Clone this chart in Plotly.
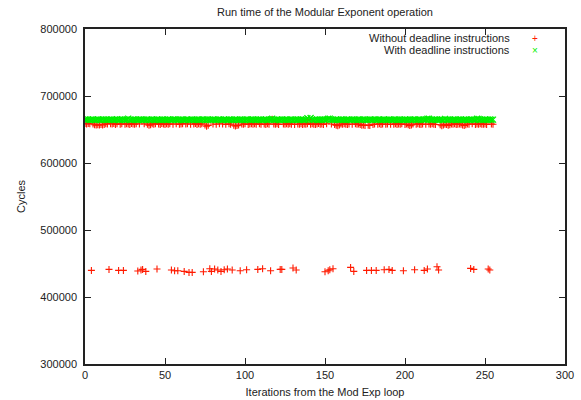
import plotly.graph_objects as go

# Iteration index (0..255) for both series
iterations = list(range(256))

# Cycles without deadline instructions (red "+")
cycles_without = [
    658800, 658300, 659000, 658500, 439700, 658200, 657000, 656600, 657200, 656800, 657400, 656900, 657500, 658600, 658100, 441200,
    658700, 658300, 658900, 657600, 658400, 439700, 658000, 658600, 439700, 657800, 658500, 658200, 657400, 658800, 658300, 657900,
    658600, 438700, 658100, 440200, 441200, 658400, 438200, 657800, 656300, 657200, 658500, 658000, 658700, 441700, 658200, 657600,
    658800, 658300, 657500, 658600, 658000, 658400, 440200, 657900, 439200, 658500, 439200, 657700, 658200, 658700, 438200, 658100,
    658500, 436700, 657800, 436700, 658300, 658800, 657600, 658400, 658000, 658600, 437700, 656800, 654900, 656200, 442200, 438200,
    658300, 441700, 657900, 440200, 658500, 438200, 658100, 440700, 657700, 441700, 658400, 657800, 440200, 656400, 655300, 655800,
    656600, 439200, 658200, 657900, 658500, 440700, 657600, 658300, 658700, 657900, 658400, 658000, 441200, 658600, 657700, 442200,
    658200, 657600, 658500, 658000, 439200, 665300, 658300, 657900, 658600, 657500, 441200, 441200, 658100, 657800, 658400, 657700,
    658500, 658000, 443200, 657600, 440200, 658300, 657900, 658600, 657400, 658200, 657800, 658700, 664800, 657700, 658400, 658000,
    657500, 658300, 658800, 657900, 658200, 657600, 437700, 658500, 439200, 440700, 658100, 442200, 657300, 656400, 655600, 656900,
    658200, 657800, 658500, 658000, 657600, 658300, 444200, 657900, 438200, 658600, 657700, 658100, 657300, 656200, 656800, 655900,
    439700, 656500, 656100, 439700, 657400, 658200, 439700, 657800, 658500, 657600, 658100, 440700, 657900, 658300, 441200, 657700,
    439700, 658000, 658400, 657600, 658200, 657900, 658600, 439200, 657500, 658100, 657200, 655800, 656900, 658300, 440700, 657800,
    658500, 658000, 657600, 658300, 439700, 657900, 441700, 658200, 657700, 658400, 658000, 657500, 445200, 440200, 657100, 655700,
    656800, 657900, 657300, 656200, 657000, 658100, 657800, 658400, 657600, 658000, 658300, 657700, 656900, 656000, 657200, 658100,
    657800, 442700, 658400, 441200, 657600, 658200, 657900, 658500, 657700, 658000, 658300, 657600, 441700, 440200, 658100, 657900,
]

# Cycles with deadline instructions (green "x")
cycles_with = [
    664800, 664500, 665000, 664300, 664700, 664900, 664400, 664600, 665100, 664500, 664200, 664800, 664600, 665000, 664400, 664700,
    664500, 664900, 664300, 664600, 665200, 664400, 664800, 664500, 664700, 664300, 665000, 666200, 664600, 664400, 664900, 664500,
    664700, 664300, 664800, 665000, 664500, 664600, 664200, 664900, 664400, 664700, 665100, 664500, 664300, 664800, 664600, 664400,
    665000, 664500, 664700, 664300, 664900, 664600, 664400, 664800, 665100, 664500, 664200, 664700, 664600, 664900, 664300, 664500,
    664800, 664400, 664600, 665000, 664300, 664700, 664500, 664900, 664400, 664600, 665100, 664300, 664800, 664500, 664700, 664400,
    664900, 664600, 664300, 664700, 665000, 664500, 664400, 664800, 664600, 664200, 664900, 664500, 664700, 664300, 664800, 664600,
    664400, 665000, 664500, 664700, 664300, 664900, 664600, 664400, 664800, 665100, 664500, 664300, 664700, 664600, 664900, 664400,
    664600, 664800, 664300, 664700, 665000, 666000, 664500, 664400, 664900, 664600, 664300, 664800, 664500, 664700, 665000, 664400,
    664600, 664900, 664300, 664700, 664500, 664800, 664400, 665000, 664600, 664300, 664700, 666800, 664500, 667200, 664900, 664400,
    664700, 664500, 664300, 664800, 664600, 664900, 664400, 665000, 666000, 666200, 664700, 664500, 664300, 664800, 664600, 664400,
    664900, 664500, 664700, 664300, 665000, 664600, 664400, 664800, 664500, 664700, 664300, 664900, 664600, 664400, 665100, 664500,
    664700, 664300, 664800, 664600, 664400, 664900, 664500, 664700, 665000, 664300, 664600, 664800, 664400, 664500, 664900, 664700,
    664300, 664600, 664800, 664400, 665000, 664500, 664700, 664300, 664900, 664600, 664400, 664800, 664500, 664700, 665100, 664300,
    664600, 664900, 664400, 664700, 664500, 664800, 666100, 666000, 664600, 664300, 664700, 664500, 664900, 664400, 664800, 664600,
    664300, 665900, 664700, 664500, 664800, 664400, 664600, 664900, 664300, 664700, 664500, 665000, 664400, 664600, 664800, 664300,
    664700, 664500, 664900, 664400, 664600, 666000, 665800, 664500, 664700, 664300, 664800, 664600, 664400, 664900, 664500, 664700,
]

x_ticks = [0, 50, 100, 150, 200, 250, 300]
y_ticks = [300000, 400000, 500000, 600000, 700000, 800000]

RED = "#ff1a00"
GREEN = "#00f000"
FONT = "Liberation Sans, Arial, Helvetica, sans-serif"
TEXT = "#222222"

fig = go.Figure()
fig.add_trace(go.Scatter(
    x=iterations, y=cycles_without, mode="markers",
    name="Without deadline instructions", showlegend=False,
    marker=dict(symbol="cross-thin", size=5, line=dict(color=RED, width=1.1), color=RED),
))
fig.add_trace(go.Scatter(
    x=iterations, y=cycles_with, mode="markers",
    name="With deadline instructions", showlegend=False,
    marker=dict(symbol="x-thin", size=6, line=dict(color=GREEN, width=1.3), color=GREEN),
))

axis_common = dict(
    showgrid=False, zeroline=False, automargin=False,
    showline=True, linecolor="#222222", linewidth=1.5, mirror="ticks",
    ticks="inside", ticklen=6, tickwidth=1.2, tickcolor="#222222",
    tickfont=dict(family=FONT, size=11, color=TEXT),
)

fig.update_xaxes(
    range=[0, 300], tickmode="array", tickvals=x_ticks, ticktext=[str(v) for v in x_ticks],
    title=dict(text="Iterations from the Mod Exp loop", font=dict(family=FONT, size=11, color=TEXT), standoff=8),
    **axis_common,
)
fig.update_yaxes(
    range=[300000, 800000], tickmode="array", tickvals=y_ticks, ticktext=[str(v) for v in y_ticks],
    ticklabelstandoff=4,
    title=dict(text="Cycles", font=dict(family=FONT, size=11, color=TEXT), standoff=12),
    **axis_common,
)

legend_entries = [
    ("Without deadline instructions", "+", RED, 0.973),
    ("With deadline instructions", "×", GREEN, 0.936),
]
annotations = []
for label, sym, col, yy in legend_entries:
    annotations.append(dict(xref="paper", yref="paper", x=0.889, y=yy, text=label,
                            showarrow=False, xanchor="right", yanchor="middle",
                            font=dict(family=FONT, size=11, color=TEXT)))
    annotations.append(dict(xref="paper", yref="paper", x=0.9375, y=yy, text=sym,
                            showarrow=False, xanchor="center", yanchor="middle",
                            font=dict(family=FONT, size=10, color=col)))

fig.update_layout(
    width=581, height=400,
    margin=dict(l=85, r=16, t=29, b=36, autoexpand=False),
    paper_bgcolor="white", plot_bgcolor="white",
    title=dict(text="Run time of the Modular Exponent operation", x=0.5, xref="paper",
               y=1 - 12 / 400, yref="container", xanchor="center", yanchor="middle",
               automargin=False,
               font=dict(family=FONT, size=11, color=TEXT)),
    annotations=annotations,
    showlegend=False,
)

fig.write_html(
    "out.html",
    config={"displayModeBar": False},
    post_script="document.body.style.margin='0';document.body.style.overflow='hidden';",
)
